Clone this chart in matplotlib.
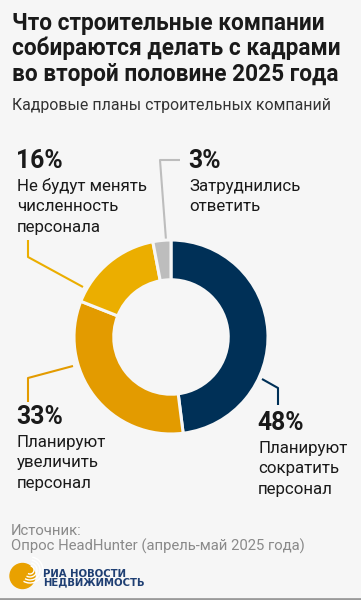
import matplotlib.pyplot as plt
from matplotlib.patches import Circle, Arc

plt.rcParams['font.family'] = ['Roboto', 'DejaVu Sans']

# data
categories = [["Планируют", "сократить", "персонал"],
              ["Планируют", "увеличить", "персонал"],
              ["Не будут менять", "численность", "персонала"],
              ["Затруднились", "ответить"]]
shares = [48, 33, 16, 3]
colors = ["#003057", "#E39B00", "#EBAE00", "#BDBDBD"]

title = ["Что строительные компании", "собираются делать с кадрами",
         "во второй половине 2025 года"]
subtitle = "Кадровые планы строительных компаний"
source = ["Источник:", "Опрос HeadHunter (апрель-май 2025 года)"]

bgc = "#F6F6F6"
W, H = 361, 600
fig = plt.figure(figsize=(W / 100, H / 100), dpi=100, facecolor=bgc)

# overlay axes in pixel coords (y from top)
bg = fig.add_axes([0, 0, 1, 1])
bg.set_xlim(0, W)
bg.set_ylim(H, 0)
bg.axis("off")

# donut
cx, cy, r = 171, 337, 97
ax = fig.add_axes([(cx - r) / W, (H - cy - r) / H, 2 * r / W, 2 * r / H])
ax.pie(shares, colors=colors, startangle=90, counterclock=False, radius=1,
       wedgeprops=dict(width=0.41, edgecolor=bgc, linewidth=2.2))
ax.set_xlim(-1, 1)
ax.set_ylim(-1, 1)
ax.axis("off")

def lines(x, y0, step, items, **kw):
    for i, s in enumerate(items):
        bg.text(x, y0 + i * step, s, va="baseline", ha="left", **kw)

# titles
lines(12, 30, 25.5, title, fontsize=16.3, fontweight="bold", color="#1a1a1a")
bg.text(12, 110, subtitle, fontsize=11.4, color="#333333", va="baseline", ha="left")

# labels: position of percentage baseline, leader line points
label_pos = [(257, 430), (16, 424), (16, 168), (188, 168)]
leaders = [
    [(262, 379), (278, 388), (278, 405)],
    [(73, 366), (28, 378), (28, 402)],
    [(83, 287), (28, 257), (28, 240)],
    [(166, 240), (160, 160), (180, 160)],
]
for (x, y), share, cat, col, pts in zip(label_pos, shares, categories, colors, leaders):
    bg.text(x, y, f"{share}%", fontsize=17.8, fontweight="bold", color="#1a1a1a",
            va="baseline", ha="left")
    lines(x + 1, y + 22.5, 20.7, cat, fontsize=12.2, color="#1a1a1a")
    xs, ys = zip(*pts)
    bg.plot(xs, ys, color=col, lw=1.5, solid_capstyle="butt")

# source
lines(11, 535, 15.5, source, fontsize=10.7, color="#8a8a8a")

# logo
bg.add_patch(Circle((22.5, 576), 12.5, color="#E9A100", zorder=3))
for rr in [4, 7, 10, 13]:
    bg.add_patch(Arc((30, 570), 2 * rr, 2 * rr, theta1=-80, theta2=120,
                     color="white", lw=1.0, zorder=4))
lines(43, 577, 8.6, ["РИА НОВОСТИ", "НЕДВИЖИМОСТЬ"], fontsize=7.3,
      fontweight="bold", color="#1f3f73", family="DejaVu Sans")

bg.plot([0, W], [598.5, 598.5], color="#9a9a9a", lw=2)

fig.savefig("out.png", dpi=100, facecolor=bgc)
